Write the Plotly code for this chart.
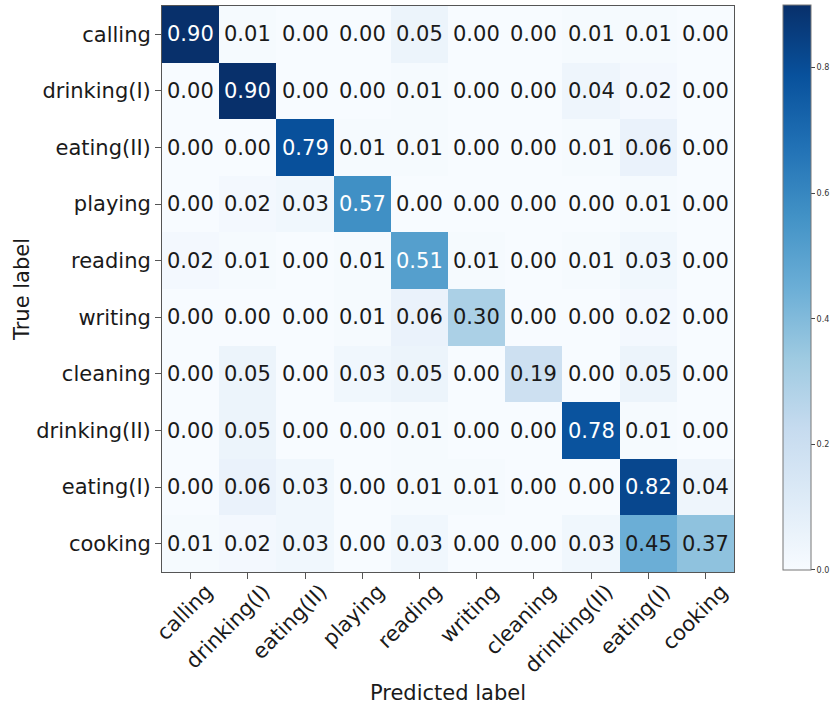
import plotly.graph_objects as go

# Class names (rows = true label, columns = predicted label)
classes = ["calling", "drinking(I)", "eating(II)", "playing", "reading",
           "writing", "cleaning", "drinking(II)", "eating(I)", "cooking"]

# Row-normalised confusion matrix
row_calling      = [0.90, 0.01, 0.00, 0.00, 0.05, 0.00, 0.00, 0.01, 0.01, 0.00]
row_drinking_i   = [0.00, 0.90, 0.00, 0.00, 0.01, 0.00, 0.00, 0.04, 0.02, 0.00]
row_eating_ii    = [0.00, 0.00, 0.79, 0.01, 0.01, 0.00, 0.00, 0.01, 0.06, 0.00]
row_playing      = [0.00, 0.02, 0.03, 0.57, 0.00, 0.00, 0.00, 0.00, 0.01, 0.00]
row_reading      = [0.02, 0.01, 0.00, 0.01, 0.51, 0.01, 0.00, 0.01, 0.03, 0.00]
row_writing      = [0.00, 0.00, 0.00, 0.01, 0.06, 0.30, 0.00, 0.00, 0.02, 0.00]
row_cleaning     = [0.00, 0.05, 0.00, 0.03, 0.05, 0.00, 0.19, 0.00, 0.05, 0.00]
row_drinking_ii  = [0.00, 0.05, 0.00, 0.00, 0.01, 0.00, 0.00, 0.78, 0.01, 0.00]
row_eating_i     = [0.00, 0.06, 0.03, 0.00, 0.01, 0.01, 0.00, 0.00, 0.82, 0.04]
row_cooking      = [0.01, 0.02, 0.03, 0.00, 0.03, 0.00, 0.00, 0.03, 0.45, 0.37]

matrix = [row_calling, row_drinking_i, row_eating_ii, row_playing, row_reading,
          row_writing, row_cleaning, row_drinking_ii, row_eating_i, row_cooking]

colorbar_ticks = [0.0, 0.2, 0.4, 0.6, 0.8]

FONT = "DejaVu Sans"
W, H = 839, 706
L, R, T, B = 162, 105, 6, 134

vmax = max(max(r) for r in matrix)
thresh = vmax / 2.0

fig = go.Figure(go.Heatmap(
    z=matrix, x=classes, y=classes,
    colorscale="Blues", zmin=0, zmax=vmax,
    hoverinfo="skip",
    colorbar=dict(
        xref="container", x=783 / W, xanchor="left",
        y=0.503, yanchor="middle",
        thickness=28, thicknessmode="pixels",
        len=565, lenmode="pixels",
        xpad=0, ypad=0,
        outlinewidth=1, outlinecolor="#777777",
        tickvals=colorbar_ticks,
        ticktext=[f"{v:.1f}" for v in colorbar_ticks],
        ticks="outside", ticklen=4, tickcolor="#444444",
        tickfont=dict(family=FONT, size=8, color="#333333"),
    ),
))

# Cell value labels, white on dark cells
annotations = []
for i, row in enumerate(matrix):
    for j, v in enumerate(row):
        annotations.append(dict(
            x=classes[j], y=classes[i], text=f"{v:.2f}",
            showarrow=False, xref="x", yref="y",
            font=dict(family=FONT, size=21,
                      color="white" if v > thresh else "#1a1a1a"),
        ))

axis_common = dict(
    showgrid=False, zeroline=False, showline=True, mirror=True,
    linecolor="#555555", linewidth=1,
    ticks="outside", ticklen=6, tickcolor="#555555",
    tickfont=dict(family=FONT, size=21, color="#1a1a1a"),
    automargin=False,
)

fig.update_layout(
    width=W, height=H,
    margin=dict(l=L, r=R, t=T, b=B, autoexpand=False),
    paper_bgcolor="white", plot_bgcolor="white",
    annotations=annotations,
    xaxis=dict(axis_common, tickangle=-45,
               ticklabelshift=16, ticklabelstandoff=-8,
               title=dict(text="Predicted label", standoff=8,
                          font=dict(family=FONT, size=21, color="#1a1a1a"))),
    yaxis=dict(axis_common, autorange="reversed",
               title=dict(text="True label", standoff=0,
                          font=dict(family=FONT, size=21, color="#1a1a1a"))),
)

fig.write_html("out.html")
